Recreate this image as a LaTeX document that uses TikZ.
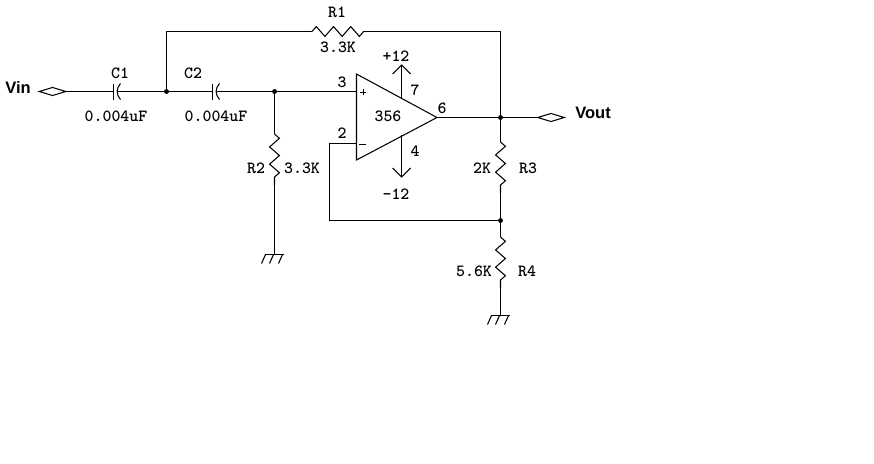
\documentclass[tikz,border=0pt]{standalone}
\usepackage{fontspec}
\newfontfamily\portfont{Liberation Sans}
\usetikzlibrary{shapes.geometric,decorations.pathreplacing,decorations.pathmorphing}
\tikzset{
  wire/.style={line width=0.6pt,line join=miter},
  resistor/.style={wire,decorate,decoration={zigzag,amplitude=2.8pt,segment length=9.8pt}},
  lbl/.style={inner sep=0pt,font=\fontsize{9.7}{10}\selectfont\ttfamily\bfseries},
  portlbl/.style={inner sep=0pt,font=\fontsize{9.4}{10}\selectfont\portfont\bfseries},
  port/.style={draw,wire,diamond,aspect=3.3,inner sep=0pt,minimum width=0.54cm,minimum height=0.17cm},
  junction/.style={circle,fill=black,inner sep=0pt,minimum size=2.8pt},
  capplate/.pic={
    \draw[wire] (0,-8) -- (0,8);
    \draw[wire] (7,-8) .. controls (2.5,-3) and (2.5,3) .. (7,8);
  },
  earth/.pic={
    \draw[wire] (-10,0) -- (9,0);
    \foreach \i in {-9,-1,8} \draw[wire] (\i,0) -- (\i-4,9);
  }
}
\begin{document}
\begin{tikzpicture}[x=0.02cm,y=-0.02cm]
  \useasboundingbox (0,0) rectangle (874,463);
  % Ports
  \node[port] (vin) at (52.5,91.5) {};
  \node[port] (vout) at (551,117.5) {};
  \node[portlbl] (vinlbl) at (18,88) {Vin};
  \node[portlbl] (voutlbl) at (593,113) {Vout};
  % Junctions
  \node[junction] (n1) at (166.5,91.5) {};
  \node[junction] (n2) at (274.5,91.5) {};
  \node[junction] (n3) at (500.5,117.5) {};
  \node[junction] (n4) at (500.5,220.5) {};
  % Capacitors
  \coordinate (c1a) at (113.5,91.5);
  \coordinate (c1b) at (118,91.5);
  \coordinate (c2a) at (212.5,91.5);
  \coordinate (c2b) at (217,91.5);
  \pic at (c1a) {capplate};
  \pic at (c2a) {capplate};
  \draw[wire] (vin) -- (c1a);
  \draw[wire] (c1b) -- (n1);
  \draw[wire] (n1) -- (c2a);
  \draw[wire] (c2b) -- (n2);
  % Op amp
  \coordinate (opp) at (356.5,91.5);
  \coordinate (opm) at (356.5,143.5);
  \coordinate (opo) at (437,117.5);
  \draw[wire] (356.5,74) -- (opo) -- (356.5,160) -- cycle;
  \draw[wire] (n2) -- (opp);
  \draw[wire] (opo) -- (n3);
  \draw[wire] (n3) -- (vout);
  \draw[wire] (360,92.5) -- (366,92.5) (363.5,89) -- (363.5,95);
  \draw[wire] (359,144.5) -- (366,144.5);
  % Supplies
  \coordinate (vpa) at (401.5,98);
  \coordinate (vpb) at (401.5,65);
  \coordinate (vma) at (401.5,135);
  \coordinate (vmb) at (401.5,177);
  \draw[wire] (vpa) -- (vpb);
  \draw[wire] (392.5,74) -- (vpb) -- (410.5,74);
  \draw[wire] (vma) -- (vmb);
  \draw[wire] (392.5,168) -- (vmb) -- (410.5,168);
  % R1 feedback
  \coordinate (r1a) at (312,31.5);
  \coordinate (r1b) at (364,31.5);
  \coordinate (t1) at (166.5,31.5);
  \coordinate (t2) at (500.5,31.5);
  \draw[wire] (n1) -- (t1) -- (r1a);
  \draw[resistor] (r1a) -- (r1b);
  \draw[wire] (r1b) -- (t2) -- (n3);
  % R2
  \coordinate (r2a) at (274.5,134);
  \coordinate (r2b) at (274.5,185);
  \coordinate (g1) at (274.5,254.5);
  \draw[wire] (n2) -- (r2a);
  \draw[resistor] (r2a) -- (r2b);
  \draw[wire] (r2b) -- (g1);
  \pic at (g1) {earth};
  % R3
  \coordinate (r3a) at (500.5,142);
  \coordinate (r3b) at (500.5,193);
  \draw[wire] (n3) -- (r3a);
  \draw[resistor] (r3a) -- (r3b);
  \draw[wire] (r3b) -- (n4);
  % R4
  \coordinate (r4a) at (500.5,237);
  \coordinate (r4b) at (500.5,288);
  \coordinate (g2) at (500.5,315.5);
  \draw[wire] (n4) -- (r4a);
  \draw[resistor] (r4a) -- (r4b);
  \draw[wire] (r4b) -- (g2);
  \pic at (g2) {earth};
  % Negative feedback
  \coordinate (f1) at (329.5,220.5);
  \coordinate (f2) at (329.5,143.5);
  \draw[wire] (n4) -- (f1) -- (f2) -- (opm);
  % Labels
  \node[lbl] (c1lbl) at (120,73) {C1};
  \node[lbl] (c2lbl) at (193,73) {C2};
  \node[lbl] (c1val) at (116,116) {0.004uF};
  \node[lbl] (c2val) at (216,116) {0.004uF};
  \node[lbl] (r1lbl) at (337,12) {R1};
  \node[lbl] (r1val) at (338,47) {3.3K};
  \node[lbl] (r2lbl) at (256,168) {R2};
  \node[lbl] (r2val) at (302,168) {3.3K};
  \node[lbl] (r3val) at (482,168) {2K};
  \node[lbl] (r3lbl) at (528,168) {R3};
  \node[lbl] (r4val) at (474,271) {5.6K};
  \node[lbl] (r4lbl) at (527,271) {R4};
  \node[lbl] (pin3) at (342,82) {3};
  \node[lbl] (pin2) at (342,133) {2};
  \node[lbl] (pin7) at (415,90) {7};
  \node[lbl] (pin4) at (415,151) {4};
  \node[lbl] (pin6) at (442,108) {6};
  \node[lbl] (opname) at (388,116) {356};
  \node[lbl] (vplbl) at (396,56) {+12};
  \node[lbl] (vmlbl) at (396,194) {-12};
\end{tikzpicture}
\end{document}
